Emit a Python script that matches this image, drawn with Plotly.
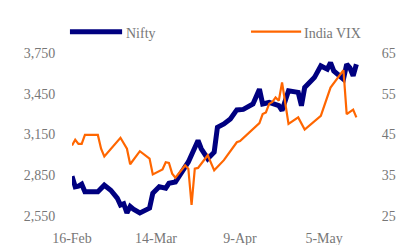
import plotly.graph_objects as go

nifty_dates = ["2009-02-16", "2009-02-17", "2009-02-18", "2009-02-19", "2009-02-20", "2009-02-24",
               "2009-02-26", "2009-02-28", "2009-03-02", "2009-03-03", "2009-03-04", "2009-03-05",
               "2009-03-06", "2009-03-07", "2009-03-09", "2009-03-12", "2009-03-13", "2009-03-15",
               "2009-03-17", "2009-03-18", "2009-03-20", "2009-03-23", "2009-03-24", "2009-03-27",
               "2009-03-28", "2009-03-30", "2009-04-01", "2009-04-02", "2009-04-04", "2009-04-06",
               "2009-04-08", "2009-04-10", "2009-04-13", "2009-04-15", "2009-04-16", "2009-04-18",
               "2009-04-21", "2009-04-22", "2009-04-24", "2009-04-27", "2009-04-28", "2009-04-29",
               "2009-05-02", "2009-05-04", "2009-05-06", "2009-05-07", "2009-05-08", "2009-05-11",
               "2009-05-12", "2009-05-13", "2009-05-14", "2009-05-15"]
nifty_values = [2843, 2765, 2770, 2784, 2728, 2728,
                2777, 2740, 2682, 2630, 2640, 2572,
                2620, 2600, 2572, 2608, 2718, 2765,
                2755, 2791, 2801, 2923, 2948, 3106,
                3045, 2972, 3020, 3203, 3228, 3265,
                3331, 3335, 3375, 3484, 3375, 3386,
                3362, 3326, 3472, 3460, 3362, 3496,
                3569, 3655, 3631, 3679, 3618, 3557,
                3667, 3640, 3582, 3667]

vix_dates = ["2009-02-16", "2009-02-17", "2009-02-18", "2009-02-19", "2009-02-20", "2009-02-24",
             "2009-02-25", "2009-02-26", "2009-03-03", "2009-03-05", "2009-03-06", "2009-03-09",
             "2009-03-12", "2009-03-13", "2009-03-16", "2009-03-17", "2009-03-18", "2009-03-19",
             "2009-03-20", "2009-03-23", "2009-03-24", "2009-03-25", "2009-03-26", "2009-03-27",
             "2009-03-30", "2009-04-01", "2009-04-04", "2009-04-08", "2009-04-09", "2009-04-15",
             "2009-04-16", "2009-04-17", "2009-04-18", "2009-04-19", "2009-04-20", "2009-04-21",
             "2009-04-22", "2009-04-24", "2009-04-27", "2009-04-29", "2009-05-04", "2009-05-07",
             "2009-05-11", "2009-05-12", "2009-05-14", "2009-05-15"]
vix_values = [42.3, 43.7, 42.7, 42.7, 44.9, 44.9,
              41.5, 39.6, 44.2, 41.5, 37.7, 40.9,
              39.1, 35.2, 36.4, 38.2, 38.0, 35.4,
              34.4, 37.4, 36.6, 27.7, 36.6, 36.8,
              39.9, 36.2, 38.7, 43.1, 43.4, 47.8,
              50.0, 50.4, 52.5, 53.0, 54.1, 53.3,
              57.8, 47.6, 49.2, 46.2, 49.6, 56.5,
              60.8, 50.0, 51.1, 49.2]

left_ticks = [2550, 2850, 3150, 3450, 3750]
left_ticktext = ["2,550", "2,850", "3,150", "3,450", "3,750"]
right_ticks = [25, 35, 45, 55, 65]
x_tickvals = ["2009-02-16", "2009-03-14", "2009-04-09", "2009-05-05"]
x_ticktext = ["16-Feb", "14-Mar", "9-Apr", "5-May"]

NAVY = "#000080"
ORANGE = "#FF6600"
GRAY = "#777777"
FONT = "Palatino Linotype, Book Antiqua, Liberation Serif, serif"
TICKFONT = dict(family=FONT, size=14, color=GRAY)

fig = go.Figure()
fig.add_trace(go.Scatter(x=nifty_dates, y=nifty_values, name="Nifty", mode="lines",
                         line=dict(color=NAVY, width=5), yaxis="y"))
fig.add_trace(go.Scatter(x=vix_dates, y=vix_values, name="India VIX", mode="lines",
                         line=dict(color=ORANGE, width=2.2), yaxis="y2"))

fig.update_layout(
    width=396, height=245,
    margin=dict(l=72, r=31, t=52.5, b=28.5, autoexpand=False),
    paper_bgcolor="white", plot_bgcolor="white",
    showlegend=False,
    font=dict(family=FONT, size=14, color=GRAY),
    xaxis=dict(type="date", range=["2009-02-16", "2009-05-17 16:00"],
               tickvals=x_tickvals, ticktext=x_ticktext, automargin=False,
               showgrid=False, zeroline=False, showline=False,
               ticks="outside", ticklen=9, tickcolor="rgba(0,0,0,0)",
               tickfont=TICKFONT),
    yaxis=dict(range=[2550, 3750], tickvals=left_ticks, ticktext=left_ticktext,
               automargin=False,
               showgrid=False, zeroline=False, showline=False,
               ticks="outside", ticklen=13, tickcolor="rgba(0,0,0,0)",
               tickfont=TICKFONT),
    yaxis2=dict(range=[25, 65], tickvals=right_ticks, overlaying="y", side="right",
                automargin=False,
                showgrid=False, zeroline=False, showline=False,
                ticks="outside", ticklen=13, tickcolor="rgba(0,0,0,0)",
                tickfont=TICKFONT),
)

# Legend drawn above the plot
fig.add_shape(type="line", xref="paper", yref="paper", x0=-0.007, x1=0.171, y0=1.131, y1=1.131,
              line=dict(color=NAVY, width=5))
fig.add_annotation(xref="paper", yref="paper", x=0.177, y=1.119, text="Nifty", showarrow=False,
                   xanchor="left", yanchor="middle", font=TICKFONT)
fig.add_shape(type="line", xref="paper", yref="paper", x0=0.611, x1=0.782, y0=1.131, y1=1.131,
              line=dict(color=ORANGE, width=2.2))
fig.add_annotation(xref="paper", yref="paper", x=0.786, y=1.119, text="India VIX", showarrow=False,
                   xanchor="left", yanchor="middle", font=TICKFONT)

fig.write_html("out.html", config={"displayModeBar": False},
               post_script="document.body.style.margin='0';document.body.style.overflow='hidden';")
